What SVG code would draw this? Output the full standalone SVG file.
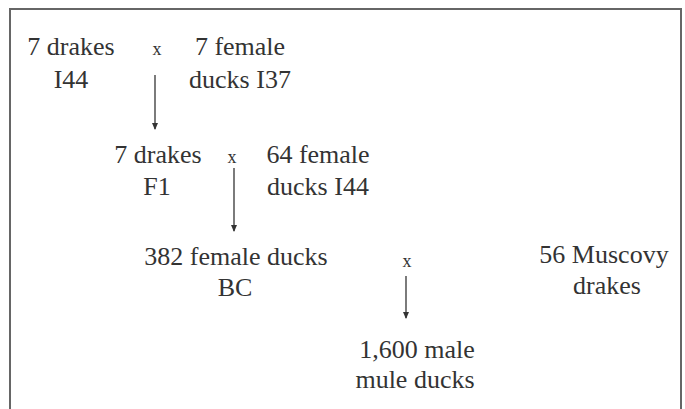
<svg xmlns="http://www.w3.org/2000/svg" width="685" height="409" viewBox="0 0 685 409">
<style>
.t{font-family:'Liberation Serif','Times New Roman',serif;font-size:26px;fill:#333;text-anchor:middle}
.x{font-family:'Liberation Serif','Times New Roman',serif;font-size:18px;fill:#333;text-anchor:middle}
.c{stroke:#444;stroke-width:1.4;fill:none;marker-end:url(#ah)}
</style>
<defs>
<marker id="ah" markerWidth="8" markerHeight="8" refX="6" refY="4" orient="auto" markerUnits="userSpaceOnUse">
<path d="M0,1 L7,4 L0,7 Z" fill="#333"/>
</marker>
</defs>
<rect x="10" y="9" width="671" height="420" fill="#fff" stroke="#666" stroke-width="2"/>
<g id="n1"><text class="t" x="71" y="55">7 drakes</text><text class="t" x="71" y="88">I44</text></g>
<g id="x1"><text class="x" x="157" y="55">x</text></g>
<g id="n2"><text class="t" x="240" y="55">7 female</text><text class="t" x="240" y="88">ducks I37</text></g>
<g id="n3"><text class="t" x="158" y="163">7 drakes</text><text class="t" x="157" y="195">F1</text></g>
<g id="x2"><text class="x" x="232" y="163">x</text></g>
<g id="n4"><text class="t" x="318" y="163">64 female</text><text class="t" x="318" y="195">ducks I44</text></g>
<g id="n5"><text class="t" x="236" y="265">382 female ducks</text><text class="t" x="235" y="296">BC</text></g>
<g id="x3"><text class="x" x="407" y="267">x</text></g>
<g id="n6"><text class="t" x="604" y="263">56 Muscovy</text><text class="t" x="607" y="294">drakes</text></g>
<g id="n7"><text class="t" x="417" y="358">1,600 male</text><text class="t" x="415" y="388">mule ducks</text></g>
<g id="connectors">
<line class="c" x1="155" y1="75" x2="155" y2="129"/>
<line class="c" x1="234" y1="168" x2="234" y2="231"/>
<line class="c" x1="406" y1="276" x2="406" y2="318"/>
</g>
</svg>
